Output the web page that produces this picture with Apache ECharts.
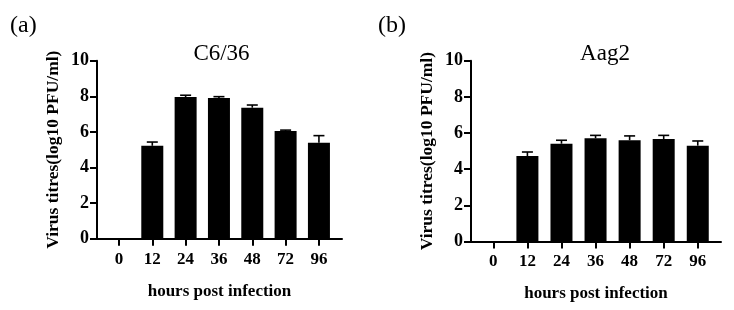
<!DOCTYPE html>
<html>
<head>
<meta charset="utf-8">
<script src="https://cdn.jsdelivr.net/npm/echarts@6/dist/echarts.min.js"></script>
<style>
  html, body { margin: 0; padding: 0; background: #fff; }
  #chart { width: 734px; height: 310px; }
</style>
</head>
<body>
<div id="chart"></div>
<script>
// data
const hours = ['0', '12', '24', '36', '48', '72', '96']
const c636Mean = [0, 5.22, 7.96, 7.90, 7.36, 6.05, 5.39]
const c636Err = [0, 0.21, 0.10, 0.08, 0.15, 0.05, 0.40]
const aag2Mean = [0, 4.73, 5.41, 5.71, 5.60, 5.67, 5.30]
const aag2Err = [0, 0.22, 0.19, 0.16, 0.24, 0.20, 0.26]
const yTicks = [0, 2, 4, 6, 8, 10]

const FONT = '"Liberation Serif", "Times New Roman", serif'
const ink = '#000'

const chart = echarts.init(document.getElementById('chart'))

// 每个面板: 一个外框 grid (轴线) + 一个柱子 grid (类目)
const panels = [
  { frame: { left: 97, top: 60.7, width: 245, height: 178 }, bars: { left: 102.3, width: 233.3 } },
  { frame: { left: 471, top: 60.7, width: 250, height: 180.8 }, bars: { left: 476.3, width: 238.5 } }
]

const grids = []
const xAxes = []
const yAxes = []
panels.forEach(p => {
  grids.push({ ...p.frame })
  grids.push({ left: p.bars.left, width: p.bars.width, top: p.frame.top, height: p.frame.height })
})

const boldText = { fontFamily: FONT, fontWeight: 700, fontSize: 17, color: ink }

panels.forEach((p, k) => {
  const g = k * 2
  // frame x axis: line only
  xAxes.push({
    gridIndex: g, type: 'value', min: 0, max: 1,
    axisLine: { show: true, lineStyle: { color: ink, width: 2 } },
    axisTick: { show: false }, axisLabel: { show: false }, splitLine: { show: false },
    name: 'hours post infection', nameLocation: 'middle', nameGap: 44,
    nameTextStyle: { ...boldText }
  })
  // category axis for the bars
  xAxes.push({
    gridIndex: g + 1, type: 'category', data: hours,
    axisLine: { show: false },
    axisTick: { show: true, alignWithLabel: true, length: 7, lineStyle: { color: ink, width: 2 } },
    axisLabel: { margin: 12, ...boldText }
  })
  yAxes.push({
    gridIndex: g, type: 'value', min: 0, max: 10, interval: 2,
    axisLine: { show: true, lineStyle: { color: ink, width: 2 } },
    axisTick: { show: true, length: 7, lineStyle: { color: ink, width: 2 } },
    axisLabel: { margin: 8, ...boldText, fontSize: 18,
      formatter: v => yTicks.includes(v) ? String(v) : '' },
    splitLine: { show: false },
    name: 'Virus titres(log10 PFU/ml)', nameLocation: 'middle', nameGap: 35, nameRotate: 90,
    nameTextStyle: { ...boldText, fontSize: 17.5 }
  })
  yAxes.push({
    gridIndex: g + 1, type: 'value', min: 0, max: 10, show: false
  })
})

const errorBars = (means, errs) => means.map((m, i) => [i, m, errs[i]])

const renderErr = (params, api) => {
  const e = api.value(2)
  if (!e) return null
  const i = api.value(0)
  const m = api.value(1)
  const lo = api.coord([i, m])
  const hi = api.coord([i, m + e])
  const half = 5.5
  const style = { stroke: ink, lineWidth: 1.6 }
  return {
    type: 'group',
    children: [
      { type: 'line', shape: { x1: lo[0], y1: lo[1], x2: hi[0], y2: hi[1] }, style },
      { type: 'line', shape: { x1: hi[0] - half, y1: hi[1], x2: hi[0] + half, y2: hi[1] }, style }
    ]
  }
}

const makeSeries = (k, means, errs) => [
  {
    type: 'bar', xAxisIndex: k * 2 + 1, yAxisIndex: k * 2 + 1,
    data: means, barWidth: 22,
    itemStyle: { color: ink }, silent: true
  },
  {
    type: 'custom', xAxisIndex: k * 2 + 1, yAxisIndex: k * 2 + 1,
    data: errorBars(means, errs), renderItem: renderErr, z: 3, silent: true
  }
]

const option = {
  backgroundColor: '#fff',
  animation: false,
  title: [
    { text: '(a)', left: 5, top: 9, textStyle: { fontFamily: FONT, fontWeight: 'normal', fontSize: 24, color: ink } },
    { text: '(b)', left: 373, top: 9, textStyle: { fontFamily: FONT, fontWeight: 'normal', fontSize: 24, color: ink } },
    { text: 'C6/36', left: 216.5, top: 37, textAlign: 'center', textStyle: { fontFamily: FONT, fontWeight: 'normal', fontSize: 23, color: ink } },
    { text: 'Aag2', left: 600, top: 37, textAlign: 'center', textStyle: { fontFamily: FONT, fontWeight: 'normal', fontSize: 23, color: ink } }
  ],
  grid: grids,
  xAxis: xAxes,
  yAxis: yAxes,
  series: [
    ...makeSeries(0, c636Mean, c636Err),
    ...makeSeries(1, aag2Mean, aag2Err)
  ]
}

chart.setOption(option)
</script>
</body>
</html>
